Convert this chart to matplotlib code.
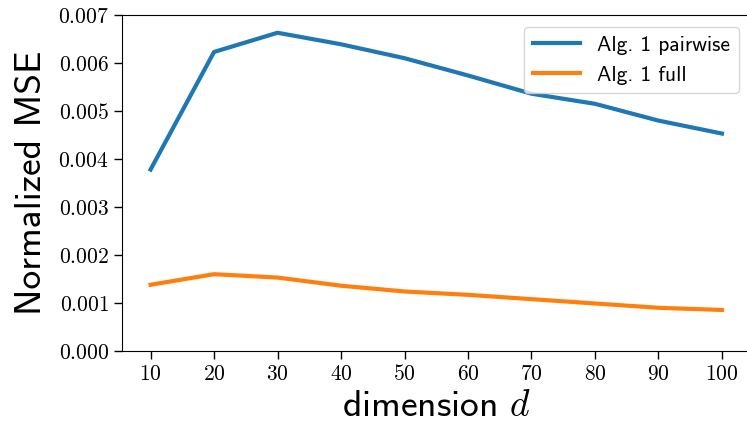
import matplotlib
matplotlib.use("Agg")
import matplotlib.pyplot as plt

# datos
dims = [10, 20, 30, 40, 50, 60, 70, 80, 90, 100]
mse_pairwise = [0.00378, 0.00623, 0.00663, 0.00639, 0.00610, 0.00574, 0.00536, 0.00515, 0.00480, 0.00453]
mse_full = [0.00138, 0.00160, 0.00153, 0.00136, 0.00124, 0.00117, 0.00108, 0.00099, 0.00090, 0.000855]
yticks = [0.000, 0.001, 0.002, 0.003, 0.004, 0.005, 0.006, 0.007]

plt.rcParams['mathtext.fontset'] = 'cm'

W, H = 747, 423
fig = plt.figure(figsize=(W / 100, H / 100), dpi=100)
ax = fig.add_axes([122 / W, 1 - 351 / H, (750.5 - 122) / W, (351 - 15) / H])

ax.plot(dims, mse_pairwise, color='#1f77b4', lw=3, label='Alg. 1 pairwise')
ax.plot(dims, mse_full, color='#ff7f0e', lw=3, label='Alg. 1 full')

ax.set_xlim(5.5, 104.5)
ax.set_ylim(0, 0.007)
ax.set_xticks(dims)
ax.set_xticklabels([f"${d}$" for d in dims], fontsize=15.5)
ax.set_yticks(yticks)
ax.set_yticklabels([f"${v:.3f}$" for v in yticks], fontsize=15.5)
ax.tick_params(length=6, width=1)

ax.set_ylabel("Normalized MSE", family='cmss10', fontsize=27, labelpad=7)
ax.set_xlabel("dimension $d$", family='cmss10', fontsize=27, labelpad=4)

ax.legend(loc='upper right', bbox_to_anchor=(739 / W, 1 - 27 / H),
          bbox_transform=fig.transFigure, borderaxespad=0,
          handlelength=2.2, prop={'family': 'cmss10', 'size': 15.5})

fig.savefig("out.png", dpi=100)
